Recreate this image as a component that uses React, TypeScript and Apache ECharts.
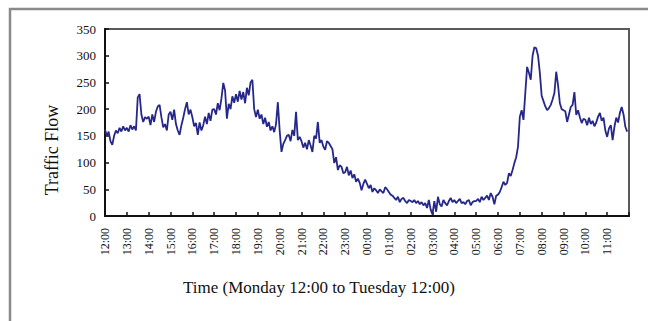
import React, { useEffect, useRef } from "react";
import * as echarts from "echarts";

// Hour tick labels along the time axis (Monday 12:00 through Tuesday 11:00)
const hourLabels = [
  "12:00", "13:00", "14:00", "15:00", "16:00", "17:00", "18:00", "19:00",
  "20:00", "21:00", "22:00", "23:00", "00:00", "01:00", "02:00", "03:00",
  "04:00", "05:00", "06:00", "07:00", "08:00", "09:00", "10:00", "11:00",
];

const yTicks = [0, 50, 100, 150, 200, 250, 300, 350];

// Traffic flow sampled every 5 minutes, one row per hour starting at 12:00
const flow = [
  162, 150, 158, 140, 133, 150, 160, 155, 165, 158, 168, 160,
  165, 158, 170, 162, 168, 160, 222, 228, 190, 176, 185, 182,
  186, 170, 190, 176, 195, 205, 208, 185, 166, 172, 160, 190,
  195, 180, 199, 172, 160, 152, 170, 184, 200, 213, 190, 199,
  185, 168, 174, 152, 175, 160, 170, 186, 172, 193, 178, 199,
  200, 190, 211, 198, 220, 249, 235, 182, 210, 200, 224, 212,
  228, 214, 234, 218, 232, 211, 240, 226, 250, 255, 200, 185,
  199, 182, 190, 172, 184, 167, 176, 160, 168, 157, 172, 213,
  160, 120, 135, 142, 150, 152, 140, 161, 150, 195, 142, 148,
  140, 128, 137, 125, 142, 132, 120, 150, 145, 176, 137, 142,
  130, 124, 140, 137, 131, 125, 99, 110, 86, 95, 92, 80,
  82, 92, 76, 85, 71, 78, 64, 70, 62, 48, 60, 68,
  60, 52, 58, 45, 52, 48, 43, 50, 46, 43, 54, 50,
  45, 40, 38, 34, 30, 36, 26, 32, 34, 28, 24, 30,
  28, 26, 30, 24, 28, 22, 26, 20, 24, 15, 30, 12,
  3, 28, 8, 36, 22, 18, 30, 24, 20, 28, 34, 26,
  30, 24, 28, 32, 24, 26, 22, 28, 30, 20, 26, 28,
  28, 32, 26, 36, 30, 34, 38, 30, 43, 36, 22, 38,
  40, 45, 54, 64, 58, 62, 80, 75, 86, 99, 110, 130,
  186, 198, 180, 230, 279, 268, 255, 300, 316, 314, 300, 268,
  225, 215, 205, 198, 202, 208, 218, 230, 270, 245, 211, 200,
  198, 196, 176, 190, 204, 208, 232, 189, 198, 185, 174, 182,
  180, 170, 184, 172, 178, 168, 175, 186, 193, 178, 184, 160,
  148, 164, 170, 142, 167, 184, 175, 193, 204, 190, 167, 158,
];

const SAMPLES_PER_HOUR = 12;
const serif = "'Liberation Serif', 'DejaVu Serif', serif";

export default function App() {
  const ref = useRef<HTMLDivElement>(null);

  useEffect(() => {
    if (!ref.current) return;
    const chart = echarts.init(ref.current, null, { renderer: "svg" });

    const points = flow.map((v, i) => [i / SAMPLES_PER_HOUR, v]);

    chart.setOption({
      animation: false,
      backgroundColor: "#ffffff",
      grid: {
        left: 105,
        right: 19,
        top: 29,
        bottom: 105,
        show: true,
        borderColor: "#5a5a5a",
        borderWidth: 2,
      },
      xAxis: {
        type: "value",
        min: 0,
        max: 24,
        interval: 1,
        axisLine: { show: true, lineStyle: { color: "#111", width: 2 } },
        axisTick: { show: true, inside: true, length: 4, lineStyle: { color: "#111", width: 1.5 } },
        splitLine: { show: false },
        axisLabel: {
          rotate: 90,
          margin: 12,
          fontFamily: serif,
          fontSize: 12,
          color: "#111",
          formatter: (v: number) => hourLabels[Math.round(v)] ?? "",
        },
      },
      yAxis: {
        type: "value",
        min: yTicks[0],
        max: yTicks[yTicks.length - 1],
        interval: 50,
        axisLine: { show: true, lineStyle: { color: "#111", width: 2 } },
        axisTick: { show: true, inside: true, length: 4, lineStyle: { color: "#111", width: 1.5 } },
        splitLine: { show: false },
        axisLabel: {
          margin: 9,
          fontFamily: serif,
          fontSize: 13,
          color: "#111",
        },
      },
      series: [
        {
          type: "line",
          data: points,
          showSymbol: false,
          lineStyle: { color: "#26278a", width: 1.8 },
        },
      ],
      graphic: [
        {
          type: "polyline",
          shape: { points: [[10, 321], [10, 9], [648, 9]] },
          style: { stroke: "#8a8a8a", lineWidth: 2.5, fill: "none" },
          silent: true,
        },
        {
          type: "text",
          x: 52,
          y: 150,
          rotation: Math.PI / 2,
          style: {
            text: "Traffic Flow",
            fontFamily: serif,
            fontSize: 18,
            fill: "#111",
            textAlign: "center",
            textVerticalAlign: "middle",
          },
        },
        {
          type: "text",
          x: 319,
          y: 287,
          style: {
            text: "Time (Monday 12:00 to Tuesday 12:00)",
            fontFamily: serif,
            fontSize: 17,
            fill: "#111",
            textAlign: "center",
            textVerticalAlign: "middle",
          },
        },
      ],
    });

    return () => chart.dispose();
  }, []);

  return (
    <div
      ref={ref}
      style={{ position: "fixed", left: 0, top: 0, width: 648, height: 321 }}
    />
  );
}
